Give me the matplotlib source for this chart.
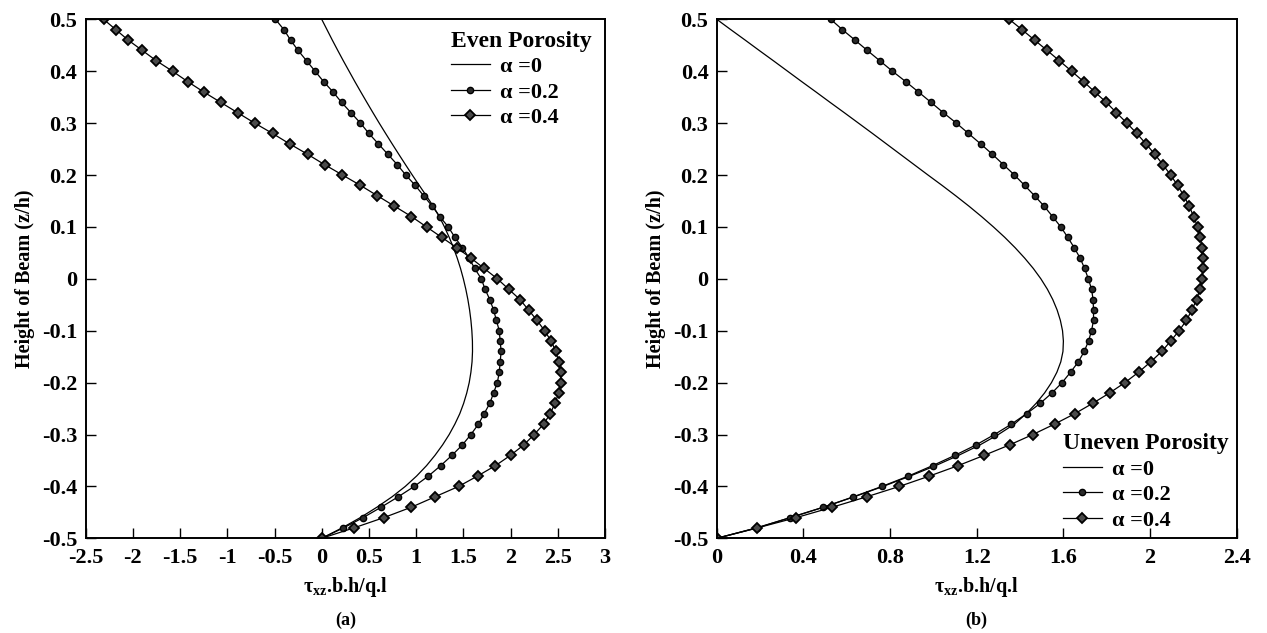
import matplotlib
matplotlib.use("Agg")
import matplotlib.pyplot as plt

plt.rcParams['font.family'] = ['Liberation Serif', 'DejaVu Serif']
plt.rcParams['font.weight'] = 'bold'
plt.rcParams['mathtext.fontset'] = 'custom'
plt.rcParams['mathtext.rm'] = 'Liberation Serif:bold'
plt.rcParams['mathtext.bf'] = 'Liberation Serif:bold'
plt.rcParams['mathtext.it'] = 'Liberation Serif:bold'

# z/h sampling levels (top to bottom)
z_levels = [0.50, 0.48, 0.46, 0.44, 0.42, 0.40, 0.38, 0.36, 0.34, 0.32,
            0.30, 0.28, 0.26, 0.24, 0.22, 0.20, 0.18, 0.16, 0.14, 0.12,
            0.10, 0.08, 0.06, 0.04, 0.02, 0.00, -0.02, -0.04, -0.06, -0.08,
            -0.10, -0.12, -0.14, -0.16, -0.18, -0.20, -0.22, -0.24, -0.26, -0.28,
            -0.30, -0.32, -0.34, -0.36, -0.38, -0.40, -0.42, -0.44, -0.46, -0.48,
            -0.50]

# (a) Even porosity
even_a00 = [0.000, 0.056, 0.112, 0.170, 0.229, 0.290, 0.351, 0.414, 0.478, 0.543,
            0.609, 0.677, 0.746, 0.816, 0.887, 0.959, 1.033, 1.108, 1.180, 1.245,
            1.300, 1.350, 1.395, 1.435, 1.470, 1.500, 1.526, 1.548, 1.566, 1.580,
            1.590, 1.596, 1.597, 1.592, 1.580, 1.562, 1.536, 1.503, 1.462, 1.410,
            1.350, 1.280, 1.200, 1.110, 1.005, 0.885, 0.745, 0.585, 0.410, 0.215,
            0.000]
even_a02 = [-0.49, -0.40, -0.33, -0.25, -0.16, -0.07, 0.02, 0.12, 0.21, 0.31,
            0.41, 0.50, 0.60, 0.70, 0.80, 0.89, 0.99, 1.08, 1.17, 1.25,
            1.34, 1.41, 1.49, 1.56, 1.62, 1.69, 1.73, 1.78, 1.82, 1.85,
            1.88, 1.89, 1.90, 1.89, 1.88, 1.86, 1.82, 1.78, 1.72, 1.66,
            1.58, 1.49, 1.38, 1.26, 1.13, 0.98, 0.81, 0.63, 0.44, 0.23,
            0.00]
even_a04 = [-2.31, -2.18, -2.05, -1.90, -1.75, -1.58, -1.42, -1.25, -1.07, -0.89,
            -0.71, -0.52, -0.34, -0.15, 0.03, 0.22, 0.41, 0.59, 0.77, 0.95,
            1.11, 1.27, 1.43, 1.58, 1.72, 1.86, 1.98, 2.10, 2.19, 2.28,
            2.36, 2.43, 2.48, 2.51, 2.53, 2.53, 2.51, 2.47, 2.42, 2.35,
            2.25, 2.14, 2.00, 1.84, 1.65, 1.45, 1.20, 0.95, 0.66, 0.34,
            0.00]

# (b) Uneven porosity
uneven_a00 = [0.000, 0.065, 0.131, 0.196, 0.262, 0.327, 0.392, 0.458, 0.523, 0.589,
              0.654, 0.719, 0.783, 0.847, 0.911, 0.975, 1.040, 1.103, 1.164, 1.222,
              1.277, 1.329, 1.377, 1.421, 1.461, 1.496, 1.526, 1.551, 1.571, 1.586,
              1.596, 1.600, 1.598, 1.588, 1.570, 1.545, 1.513, 1.474, 1.428, 1.374,
              1.300, 1.215, 1.117, 1.010, 0.893, 0.768, 0.634, 0.494, 0.342, 0.182,
              0.000]
uneven_a02 = [0.526, 0.580, 0.638, 0.695, 0.753, 0.811, 0.872, 0.931, 0.989, 1.046,
              1.106, 1.162, 1.218, 1.272, 1.323, 1.374, 1.421, 1.467, 1.511, 1.550,
              1.588, 1.620, 1.650, 1.677, 1.698, 1.715, 1.730, 1.737, 1.739, 1.739,
              1.730, 1.716, 1.696, 1.669, 1.633, 1.594, 1.547, 1.493, 1.430, 1.360,
              1.282, 1.197, 1.100, 0.996, 0.885, 0.763, 0.631, 0.492, 0.339, 0.187,
              0.000]
uneven_a04 = [1.350, 1.409, 1.467, 1.525, 1.582, 1.638, 1.693, 1.745, 1.798, 1.845,
              1.893, 1.939, 1.981, 2.022, 2.059, 2.095, 2.127, 2.156, 2.181, 2.201,
              2.220, 2.232, 2.240, 2.244, 2.244, 2.240, 2.230, 2.215, 2.193, 2.168,
              2.134, 2.095, 2.054, 2.003, 1.947, 1.884, 1.813, 1.735, 1.652, 1.559,
              1.459, 1.352, 1.235, 1.114, 0.982, 0.843, 0.692, 0.534, 0.368, 0.187,
              0.000]

labels = ['\u03b1 =0', '\u03b1 =0.2', '\u03b1 =0.4']
xticks_a = [-2.5, -2, -1.5, -1, -0.5, 0, 0.5, 1, 1.5, 2, 2.5, 3]
xticks_b = [0, 0.4, 0.8, 1.2, 1.6, 2, 2.4]
yticks = [-0.5, -0.4, -0.3, -0.2, -0.1, 0, 0.1, 0.2, 0.3, 0.4, 0.5]

fig = plt.figure(figsize=(12.67, 6.33), dpi=100)
axA = fig.add_axes([0.0676, 0.1496, 0.4099, 0.8199])
axB = fig.add_axes([0.5657, 0.1496, 0.4104, 0.8199])


def fmt(v):
    return '%g' % v


def style(ax, data, xticks, xlim, title, loc, anchor, sub):
    a0, a2, a4 = data
    ax.plot(a0, z_levels, color='black', lw=0.9, label=labels[0])
    ax.plot(a2, z_levels, color='black', lw=0.9, marker='o', ms=4.5,
            mfc='#2a2a2a', mec='black', mew=1.0, label=labels[1])
    ax.plot(a4, z_levels, color='black', lw=0.9, marker='D', ms=5.5,
            mfc='#4a4a4a', mec='black', mew=1.3, label=labels[2])
    ax.set_xlim(*xlim)
    ax.set_ylim(-0.5, 0.5)
    ax.set_xticks(xticks)
    ax.set_xticklabels([fmt(v) for v in xticks])
    ax.set_yticks(yticks)
    ax.set_yticklabels([fmt(v) for v in yticks])
    ax.tick_params(direction='in', length=7, width=1, labelsize=16,
                   top=False, right=False)
    ax.tick_params(axis='x', pad=7)
    ax.tick_params(axis='y', pad=6)
    for lab in ax.get_xticklabels() + ax.get_yticklabels():
        lab.set_fontweight('bold')
    for s in ax.spines.values():
        s.set_linewidth(1.4)
    ax.set_ylabel('Height of Beam (z/h)', fontsize=14.5, fontweight='bold', labelpad=5)
    ax.set_xlabel('\u03c4$_{\\mathbf{xz}}$.b.h/q.l', fontsize=14.5, fontweight='bold',
                  labelpad=5)
    ax.text(0.5, -0.159, sub, transform=ax.transAxes, ha='center', va='center',
            fontsize=13, fontweight='bold')
    leg = ax.legend(loc=loc, bbox_to_anchor=anchor, frameon=False, title=title,
                    alignment='left', fontsize=16, handlelength=1.75,
                    handletextpad=0.45, labelspacing=0.22, borderpad=0.0,
                    borderaxespad=0.0)
    leg.get_title().set_fontsize(17)
    leg.get_title().set_fontweight('bold')
    for t in leg.get_texts():
        t.set_fontweight('bold')


style(axA, (even_a00, even_a02, even_a04), xticks_a, (-2.5, 3),
      'Even Porosity', 'upper left', (0.703, 0.978), '(a)')
style(axB, (uneven_a00, uneven_a02, uneven_a04), xticks_b, (0, 2.4),
      'Uneven Porosity', 'lower left', (0.666, 0.015), '(b)')

fig.savefig('out.png', dpi=100)
